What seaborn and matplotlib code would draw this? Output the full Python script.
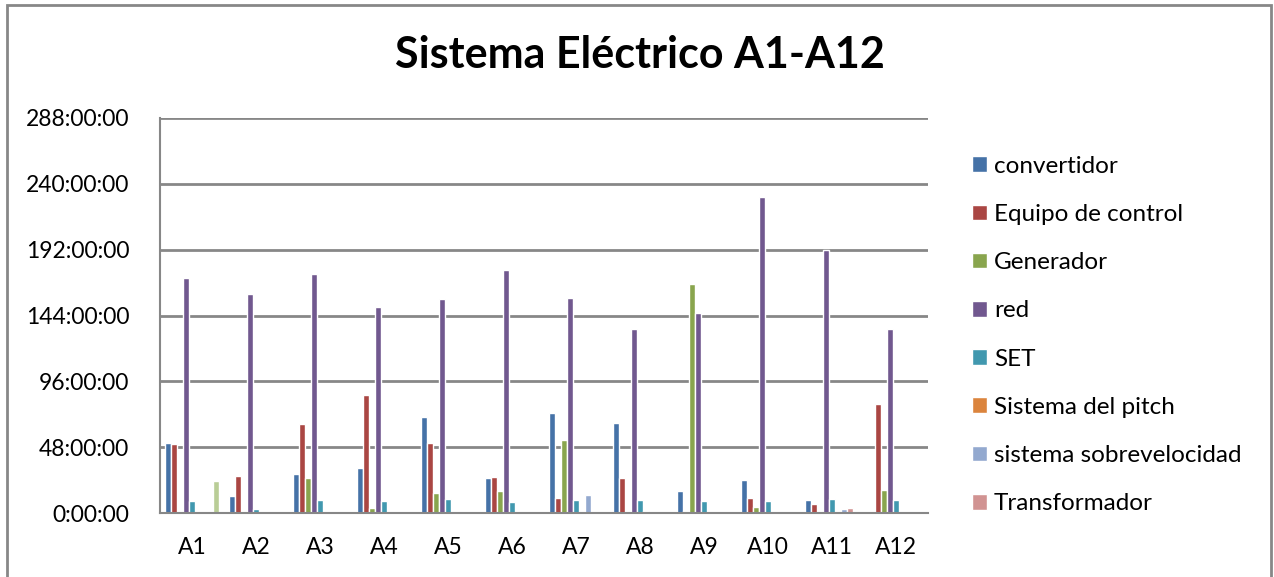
import numpy as np
import pandas as pd
import matplotlib
matplotlib.use("Agg")
import matplotlib.pyplot as plt
import seaborn as sns
from matplotlib.patches import Rectangle, Patch
from matplotlib.ticker import FuncFormatter

# hours of downtime per turbine and system
turbines = ["A1", "A2", "A3", "A4", "A5", "A6", "A7", "A8", "A9", "A10", "A11", "A12"]

convertidor = [50.8, 12.4, 28.2, 32.6, 69.7, 25.5, 72.9, 65.6, 16.3, 24.3, 9.5, 0.5]
equipo_control = [50.5, 27.0, 64.9, 86.2, 51.0, 26.2, 11.2, 25.3, 1.5, 10.9, 6.8, 79.4]
generador = [1.0, 0.5, 25.3, 3.4, 14.3, 16.3, 53.4, 0.0, 167.1, 4.4, 0.0, 16.5]
red = [171.5, 159.4, 174.0, 150.1, 156.0, 177.5, 156.4, 134.5, 145.7, 230.6, 192.0, 134.5]
set_ = [8.7, 2.7, 9.5, 9.0, 10.0, 8.0, 9.5, 9.5, 8.7, 8.7, 10.0, 9.2]
pitch = [0, 0, 0, 0, 0, 0, 0, 1.5, 0, 0, 0, 0]
sobrevelocidad = [0, 0, 0, 0, 0, 0, 12.9, 0, 0.7, 0, 2.7, 0]
transformador = [0, 0, 0, 0, 0, 0, 0, 0, 0, 0, 3.9, 0]
otros = [23.3, 0, 0, 0, 0, 0, 0, 0, 0, 0, 0, 0]

series_names = ["convertidor", "Equipo de control", "Generador", "red", "SET",
                "Sistema del pitch", "sistema sobrevelocidad", "Transformador", "otros"]
series_values = [convertidor, equipo_control, generador, red, set_,
                 pitch, sobrevelocidad, transformador, otros]
colors = ["#4572A7", "#AA4643", "#89A54E", "#71588F", "#4198AF",
          "#DB843D", "#93A9CF", "#D19392", "#B9CD96"]

y_ticks = [0, 48, 96, 144, 192, 240, 288]

rows = []
for name, vals in zip(series_names, series_values):
    for t, v in zip(turbines, vals):
        rows.append({"turbina": t, "sistema": name, "horas": v})
df = pd.DataFrame(rows)

sns.set_style("white")
plt.rcParams["font.family"] = ["Lato", "DejaVu Sans"]
plt.rcParams["text.color"] = "black"

W, H = 1274, 577
fig = plt.figure(figsize=(W / 100, H / 100), dpi=100)
ax = fig.add_axes([160 / W, 1 - 513 / H, 768 / W, 395 / H])

sns.barplot(data=df, x="turbina", y="horas", hue="sistema", order=turbines,
            hue_order=series_names, palette=colors, width=9 / 10.5, gap=0,
            saturation=1, errorbar=None, legend=False, ax=ax)

ax.set_ylim(0, 288)
ax.set_xlim(-0.5, len(turbines) - 0.5)
ax.set_yticks(y_ticks)
ax.yaxis.set_major_formatter(FuncFormatter(lambda v, p: f"{int(v)}:00:00"))
ax.grid(axis="y", color="#878787", linewidth=2)
ax.set_axisbelow(True)
ax.set_xlabel("")
ax.set_ylabel("")
for side in ["top", "right"]:
    ax.spines[side].set_visible(False)
for side in ["left", "bottom"]:
    ax.spines[side].set_color("#878787")
    ax.spines[side].set_linewidth(1.5)
ax.tick_params(axis="y", labelsize=16.5, pad=22, length=0, labelcolor="black")
ax.tick_params(axis="x", labelsize=16.5, pad=17, length=0, labelcolor="black")

handles = [Patch(facecolor=c, label=n) for c, n in zip(colors[:8], series_names[:8])]
fig.legend(handles=handles, loc="upper left", bbox_to_anchor=(962 / W, 1 - 146 / H),
           frameon=False, fontsize=17.5, labelspacing=1.12, handlelength=0.62,
           handleheight=0.62, handletextpad=0.3, borderaxespad=0, labelcolor="black")

fig.text(640 / W, 1 - 55 / H, "Sistema Eléctrico A1-A12", ha="center", va="center",
         fontsize=31, fontweight="bold", color="black")

fig.patches.append(Rectangle((7 / W, -0.05), 1264 / W, 1 - 5 / H + 0.05,
                             transform=fig.transFigure, fill=False,
                             edgecolor="#878787", linewidth=2))

fig.savefig("out.png", dpi=100)
